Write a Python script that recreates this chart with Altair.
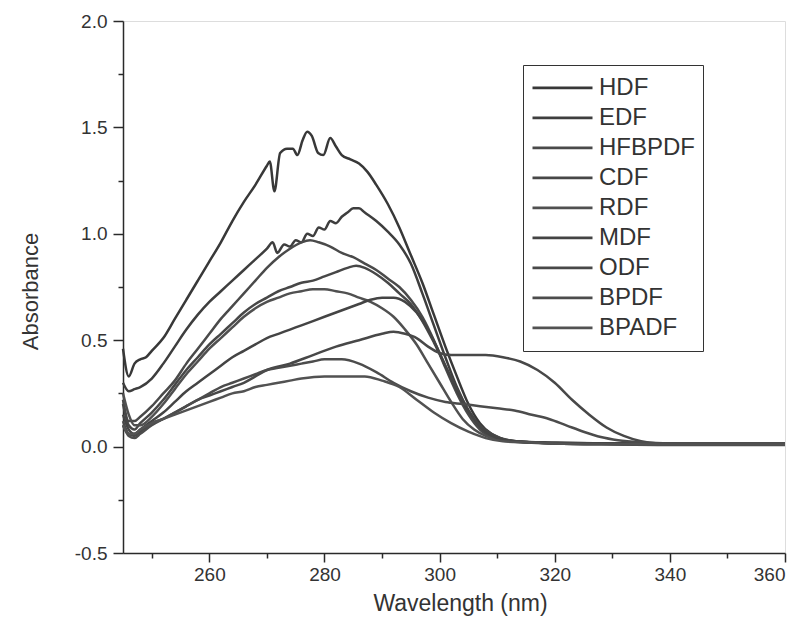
import altair as alt
import pandas as pd

# Sample names in legend order
samples = ["HDF", "EDF", "HFBPDF", "CDF", "RDF", "MDF", "ODF", "BPDF", "BPADF"]
line_colors = ["#383838", "#3e3e3e", "#4a4a4a", "#474747", "#505050",
               "#444444", "#484848", "#4c4c4c", "#525252"]

# UV absorption spectra (wavelength in nm, absorbance)
wl_hdf = [245, 246, 247, 248, 249, 250, 252, 254, 256, 258, 260, 262, 264, 266, 268, 270,
          270.5, 271.3, 272.3, 273.5, 274.5, 275.3, 276.2, 277, 277.8, 278.9, 279.8, 281,
          282, 283, 284.5, 286, 287.5, 289, 291, 293, 295, 297, 299, 301, 303, 305, 307,
          309, 311, 314, 320, 330, 340, 350, 360]
abs_hdf = [0.46, 0.33, 0.39, 0.41, 0.42, 0.45, 0.51, 0.60, 0.69, 0.78, 0.87, 0.96, 1.06,
           1.15, 1.23, 1.32, 1.34, 1.20, 1.38, 1.40, 1.40, 1.37, 1.44, 1.48, 1.46, 1.38,
           1.37, 1.45, 1.41, 1.37, 1.35, 1.33, 1.29, 1.23, 1.14, 1.03, 0.90, 0.77, 0.62,
           0.47, 0.33, 0.20, 0.11, 0.06, 0.035, 0.02, 0.015, 0.015, 0.012, 0.012, 0.012]

wl_edf = [245, 246, 247, 248, 250, 252, 254, 256, 258, 260, 262, 264, 266, 268, 270, 271,
          271.8, 273, 274, 275, 276, 277, 278, 279, 280, 281, 282, 283, 284, 285, 286, 287,
          289, 291, 293, 295, 297, 299, 301, 303, 305, 307, 309, 312, 316, 320, 330, 340,
          350, 360]
abs_edf = [0.30, 0.26, 0.27, 0.28, 0.32, 0.39, 0.47, 0.55, 0.62, 0.68, 0.73, 0.78, 0.83,
           0.88, 0.93, 0.96, 0.91, 0.95, 0.94, 0.97, 0.96, 1.00, 0.99, 1.03, 1.02, 1.06,
           1.05, 1.08, 1.10, 1.12, 1.12, 1.10, 1.06, 1.01, 0.95, 0.86, 0.72, 0.57, 0.42,
           0.28, 0.17, 0.09, 0.05, 0.03, 0.02, 0.018, 0.015, 0.015, 0.015, 0.015]

wl_hfbpdf = [245, 246, 247, 248, 250, 252, 254, 256, 258, 260, 262, 264, 266, 268, 270,
             272, 274, 276, 277.5, 279, 281, 283, 285, 287, 289, 291, 293, 295, 297, 299,
             301, 303, 305, 307, 309, 312, 316, 320, 330, 340, 350, 360]
abs_hfbpdf = [0.22, 0.12, 0.12, 0.14, 0.19, 0.25, 0.31, 0.39, 0.46, 0.53, 0.60, 0.66,
              0.72, 0.78, 0.84, 0.89, 0.93, 0.96, 0.97, 0.96, 0.94, 0.91, 0.89, 0.86,
              0.83, 0.79, 0.75, 0.69, 0.61, 0.50, 0.37, 0.25, 0.15, 0.08, 0.045, 0.025,
              0.02, 0.015, 0.012, 0.01, 0.01, 0.01]

wl_cdf = [245, 246, 247, 248, 250, 252, 254, 256, 258, 260, 262, 264, 266, 268, 270, 272,
          274, 276, 278, 280, 282, 284, 285.5, 287, 289, 291, 293, 295, 297, 299, 301, 303,
          305, 307, 309, 312, 316, 320, 330, 340, 350, 360]
abs_cdf = [0.20, 0.10, 0.08, 0.11, 0.16, 0.22, 0.29, 0.36, 0.42, 0.48, 0.53, 0.58, 0.63,
           0.67, 0.70, 0.73, 0.75, 0.77, 0.78, 0.80, 0.82, 0.84, 0.85, 0.84, 0.81, 0.77,
           0.72, 0.67, 0.59, 0.49, 0.38, 0.27, 0.17, 0.10, 0.06, 0.03, 0.02, 0.015, 0.01,
           0.008, 0.008, 0.008]

wl_rdf = [245, 246, 247, 248, 250, 252, 254, 256, 258, 260, 262, 264, 266, 268, 270, 272,
          274, 276, 278, 280, 282, 284, 286, 288, 290, 292, 294, 296, 298, 300, 302, 304,
          306, 308, 311, 316, 320, 330, 340, 350, 360]
abs_rdf = [0.25, 0.15, 0.10, 0.10, 0.14, 0.20, 0.27, 0.34, 0.40, 0.46, 0.51, 0.56, 0.61,
           0.65, 0.68, 0.70, 0.72, 0.73, 0.74, 0.74, 0.73, 0.72, 0.70, 0.68, 0.65, 0.61,
           0.55, 0.48, 0.39, 0.30, 0.21, 0.13, 0.08, 0.05, 0.03, 0.02, 0.015, 0.012,
           0.01, 0.01, 0.01]

wl_mdf = [245, 246, 247, 248, 250, 252, 254, 256, 258, 260, 262, 264, 266, 268, 270, 272,
          274, 276, 278, 280, 282, 284, 286, 288, 290, 292, 294, 296, 298, 300, 302, 304,
          306, 308, 310, 313, 318, 330, 340, 350, 360]
abs_mdf = [0.15, 0.08, 0.06, 0.08, 0.12, 0.16, 0.21, 0.26, 0.30, 0.34, 0.38, 0.42, 0.45,
           0.48, 0.51, 0.53, 0.55, 0.57, 0.59, 0.61, 0.63, 0.65, 0.67, 0.69, 0.70, 0.70,
           0.68, 0.63, 0.55, 0.44, 0.32, 0.21, 0.13, 0.07, 0.04, 0.025, 0.02, 0.015,
           0.012, 0.012, 0.012]

wl_odf = [245, 246, 247, 248, 250, 252, 254, 256, 258, 260, 262, 264, 266, 268, 270, 274,
          278, 282, 286, 290, 292, 294, 296, 298, 300, 302, 305, 308, 311, 314, 317, 320,
          323, 326, 329, 332, 335, 338, 345, 350, 360]
abs_odf = [0.12, 0.06, 0.05, 0.07, 0.11, 0.13, 0.16, 0.19, 0.22, 0.24, 0.26, 0.28, 0.30,
           0.33, 0.36, 0.39, 0.43, 0.47, 0.50, 0.53, 0.54, 0.53, 0.51, 0.47, 0.44, 0.43,
           0.43, 0.43, 0.42, 0.40, 0.36, 0.30, 0.22, 0.15, 0.09, 0.05, 0.025, 0.015,
           0.012, 0.012, 0.012]

wl_bpdf = [245, 246, 247, 248, 250, 252, 254, 256, 258, 260, 262, 264, 266, 268, 270, 272,
           274, 276, 278, 280, 283, 286, 289, 292, 295, 298, 301, 304, 307, 310, 313, 316,
           319, 322, 325, 328, 331, 335, 340, 350, 360]
abs_bpdf = [0.10, 0.05, 0.04, 0.06, 0.10, 0.13, 0.16, 0.19, 0.22, 0.25, 0.28, 0.30, 0.32,
            0.34, 0.36, 0.37, 0.38, 0.39, 0.40, 0.41, 0.41, 0.39, 0.35, 0.30, 0.26, 0.23,
            0.21, 0.20, 0.19, 0.18, 0.17, 0.15, 0.13, 0.10, 0.07, 0.045, 0.03, 0.02,
            0.015, 0.015, 0.015]

wl_bpadf = [245, 246, 247, 248, 250, 252, 254, 256, 258, 260, 262, 264, 266, 268, 270, 272,
            274, 276, 280, 284, 287, 290, 293, 296, 299, 302, 305, 308, 311, 315, 320, 330,
            340, 350, 360]
abs_bpadf = [0.10, 0.06, 0.06, 0.08, 0.11, 0.13, 0.15, 0.17, 0.19, 0.21, 0.23, 0.25, 0.26,
             0.28, 0.29, 0.30, 0.31, 0.32, 0.33, 0.33, 0.33, 0.31, 0.28, 0.22, 0.16, 0.11,
             0.07, 0.04, 0.025, 0.02, 0.015, 0.012, 0.01, 0.01, 0.01]

# Axis ticks: major ticks labelled, minor ticks in between
x_ticks = [250, 260, 270, 280, 290, 300, 310, 320, 330, 340, 350, 360]
y_ticks = [-0.5, -0.25, 0.0, 0.25, 0.5, 0.75, 1.0, 1.25, 1.5, 1.75, 2.0]

series = [
    ("HDF", wl_hdf, abs_hdf), ("EDF", wl_edf, abs_edf), ("HFBPDF", wl_hfbpdf, abs_hfbpdf),
    ("CDF", wl_cdf, abs_cdf), ("RDF", wl_rdf, abs_rdf), ("MDF", wl_mdf, abs_mdf),
    ("ODF", wl_odf, abs_odf), ("BPDF", wl_bpdf, abs_bpdf), ("BPADF", wl_bpadf, abs_bpadf),
]
frames = [pd.DataFrame({"wavelength": w, "absorbance": a, "sample": name})
          for name, w, a in series]
df = pd.concat(frames, ignore_index=True)

FONT = "Liberation Sans"
TEXT = "#333333"
AXIS = "#2a2a2a"

x_axis = alt.Axis(
    title="Wavelength (nm)", values=x_ticks, grid=False,
    labelExpr="datum.value % 20 === 0 ? datum.value : ''",
    tickSize={"condition": {"test": "datum.value % 20 !== 0", "value": 5}, "value": 9},
    labelFontSize=19, labelFont=FONT, labelColor=TEXT, labelPadding=3,
    titleFontSize=23, titleFont=FONT, titleColor=TEXT, titleFontWeight="normal",
    titleX=337, titleY=50, titleBaseline="middle",
    domainColor=AXIS, domainWidth=1.5, tickColor=AXIS, tickWidth=1.5,
)
y_axis = alt.Axis(
    title="Absorbance", values=y_ticks, grid=False,
    labelExpr="abs(datum.value % 0.5) < 0.01 ? "
              "(datum.value < 0 ? '-' : '') + format(abs(datum.value), '.1f') : ''",
    tickSize={"condition": {"test": "abs(datum.value % 0.5) > 0.01", "value": 5}, "value": 10},
    labelFontSize=19, labelFont=FONT, labelColor=TEXT, labelPadding=6,
    titleFontSize=22, titleFont=FONT, titleColor=TEXT, titleFontWeight="normal",
    titleX=-93, titleY=270, titleBaseline="middle", titleAngle=-90,
    domainColor=AXIS, domainWidth=1.5, tickColor=AXIS, tickWidth=1.5,
)

chart = alt.Chart(df).mark_line(strokeWidth=2.5, interpolate="monotone").encode(
    x=alt.X("wavelength:Q", scale=alt.Scale(domain=[245, 360], nice=False, zero=False),
            axis=x_axis),
    y=alt.Y("absorbance:Q", scale=alt.Scale(domain=[-0.5, 2.0], nice=False), axis=y_axis),
    color=alt.Color(
        "sample:N",
        scale=alt.Scale(domain=samples, range=line_colors),
        legend=alt.Legend(
            title=None, orient="none", legendX=400, legendY=44,
            symbolType="stroke", symbolSize=3600, symbolStrokeWidth=2.8,
            symbolStrokeColor="#444444",
            clipHeight=29.6, rowPadding=0, padding=8,
            labelFontSize=24, labelFont=FONT, labelColor=TEXT, labelOffset=5,
            strokeColor="#333333",
        ),
    ),
    detail="sample:N",
).properties(
    width=662, height=532,
    padding={"left": 123, "top": 21, "right": 21, "bottom": 84},
    autosize=alt.AutoSizeParams(type="none"),
).configure_view(stroke=None).configure(background="white")

chart.save("out.html", embed_options={"renderer": "svg", "actions": False})
